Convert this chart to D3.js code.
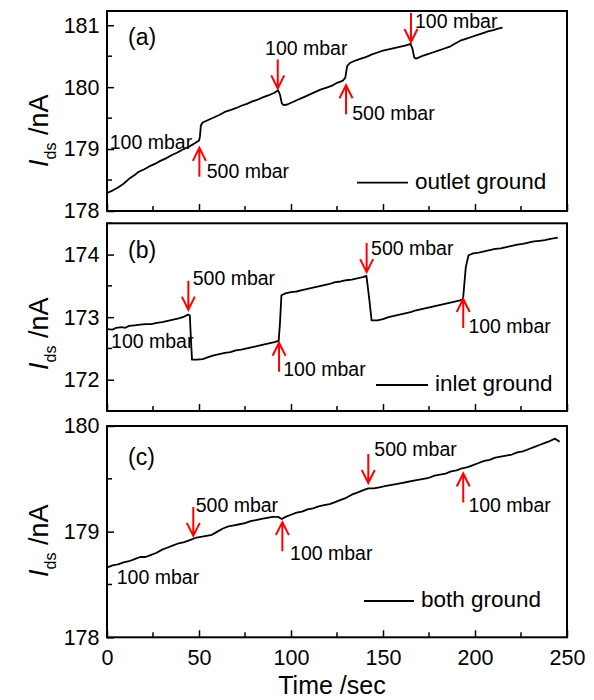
<!DOCTYPE html>
<html>
<head>
<meta charset="utf-8">
<script src="https://cdn.jsdelivr.net/npm/d3@7"></script>
<style>
body { margin: 0; background: #fff; }
text { font-family: "Liberation Sans", Arial, sans-serif; fill: #000; }
</style>
</head>
<body>
<script>
// ---- data ----
var xTicks = [0, 50, 100, 150, 200, 250];
var xDomain = [0, 250];

var yTicksA = [178, 179, 180, 181];
var yTicksB = [172, 173, 174];
var yTicksC = [178, 179, 180];
var yDomainA = [178, 181.23];
var yDomainB = [171.5, 174.5];
var yDomainC = [178, 180];

// [time (s), Ids (nA)]
var seriesA = [[0,178.29],[3,178.33],[6,178.38],[9,178.44],[12,178.52],[15,178.58],[17,178.63],[20,178.67],
  [23,178.72],[26,178.76],[29,178.81],[32,178.85],[35,178.90],[38,178.94],[41,178.99],[44,179.03],[47,179.08],
  [49,179.12],[50,179.14],[50.5,179.2],[51,179.38],[52,179.43],[55,179.47],[58,179.51],[61,179.55],[64,179.60],
  [67,179.63],[70,179.66],[73,179.70],[76,179.73],[79,179.77],[82,179.80],[85,179.84],[88,179.87],[91,179.91],
  [93,179.95],[94,179.88],[95,179.74],[96,179.71],[98,179.72],[101,179.76],[104,179.80],[107,179.84],[110,179.88],
  [113,179.92],[116,179.96],[119,179.99],[122,180.02],[125,180.07],[128,180.10],[129.5,180.15],[130.5,180.34],
  [132,180.39],[135,180.43],[138,180.46],[141,180.49],[144,180.53],[147,180.56],[150,180.59],[153,180.61],
  [156,180.63],[159,180.65],[162,180.67],[165,180.70],[166,180.62],[167,180.48],[168,180.46],[171,180.50],
  [174,180.53],[177,180.56],[180,180.59],[183,180.62],[186,180.65],[189,180.70],[192,180.75],[195,180.78],
  [198,180.81],[201,180.84],[204,180.87],[207,180.90],[210,180.92],[213,180.95],[215,180.96]];

var seriesB = [[0,172.81],[3,172.80],[5,172.83],[8,172.84],[10,172.83],[12,172.86],[15,172.87],[18,172.88],
  [21,172.89],[24,172.89],[27,172.91],[30,172.92],[33,172.94],[36,172.96],[39,172.98],[42,173.01],[44,173.04],
  [45,173.03],[45.7,172.6],[46.2,172.32],[49,172.32],[52,172.33],[55,172.36],[58,172.39],[61,172.41],[64,172.43],
  [67,172.44],[70,172.47],[73,172.48],[76,172.50],[79,172.52],[82,172.54],[85,172.56],[88,172.58],[91,172.60],
  [93.3,172.62],[94,172.9],[94.8,173.35],[97,173.38],[100,173.40],[103,173.41],[106,173.43],[109,173.45],
  [112,173.47],[115,173.49],[118,173.51],[121,173.53],[124,173.56],[127,173.57],[130,173.59],[133,173.60],
  [136,173.62],[139,173.64],[141,173.66],[142.5,173.3],[143.8,172.95],[147,172.95],[150,172.97],[153,173.00],
  [156,173.02],[159,173.04],[162,173.06],[165,173.08],[168,173.11],[171,173.13],[174,173.15],[177,173.17],
  [180,173.19],[183,173.21],[186,173.23],[189,173.25],[192,173.27],[193.5,173.29],[195,173.8],[196.5,173.99],
  [199,174.02],[202,174.03],[205,174.05],[208,174.07],[211,174.09],[214,174.10],[217,174.12],[220,174.14],
  [223,174.16],[226,174.17],[229,174.19],[232,174.21],[235,174.22],[238,174.23],[241,174.25],[245,174.27]];

var seriesC = [[0,178.66],[3,178.68],[6,178.69],[9,178.71],[12,178.72],[15,178.74],[18,178.76],[21,178.76],
  [24,178.78],[27,178.80],[30,178.83],[33,178.85],[36,178.87],[39,178.89],[42,178.90],[45,178.92],[48,178.94],
  [51,178.95],[54,178.96],[57,178.97],[60,179.00],[63,179.03],[66,179.05],[69,179.06],[72,179.07],[75,179.08],
  [78,179.10],[81,179.11],[84,179.12],[87,179.13],[90,179.14],[93,179.14],[95,179.12],[97,179.14],[100,179.16],
  [103,179.18],[106,179.19],[109,179.21],[112,179.22],[115,179.24],[118,179.25],[121,179.26],[124,179.28],
  [127,179.30],[130,179.32],[133,179.35],[136,179.37],[139,179.39],[142,179.41],[145,179.41],[148,179.42],
  [151,179.43],[154,179.44],[157,179.45],[160,179.46],[163,179.47],[166,179.48],[169,179.49],[172,179.50],
  [175,179.51],[178,179.53],[181,179.54],[184,179.55],[187,179.57],[190,179.58],[193,179.60],[196,179.61],
  [199,179.63],[202,179.65],[205,179.67],[208,179.68],[211,179.70],[214,179.71],[217,179.72],[220,179.73],
  [223,179.75],[226,179.76],[229,179.78],[232,179.80],[235,179.82],[238,179.84],[241,179.86],[243.5,179.88],
  [246,179.85]];

// arrows: [time, value at tip, direction]
var arrowsA = [[50.2,179.02,"up"],[92.8,179.98,"down"],[129.9,180.03,"up"],[165.2,180.73,"down"]];
var arrowsB = [[44.2,173.12,"down"],[93.5,172.59,"up"],[141.1,173.72,"down"],[193.6,173.29,"up"]];
var arrowsC = [[46.9,178.96,"down"],[95.3,179.09,"up"],[142,179.46,"down"],[193.6,179.55,"up"]];

// notes: [time, value at baseline, text]
var notesA = [[1.5,179.0,"100 mbar"],[54.2,178.53,"500 mbar"],[85.9,180.52,"100 mbar"],
  [133.3,179.47,"500 mbar"],[167.4,180.95,"100 mbar"]];
var notesB = [[2.2,172.51,"100 mbar"],[46.6,173.51,"500 mbar"],[95.8,172.06,"100 mbar"],
  [143.5,174.0,"500 mbar"],[196.4,172.75,"100 mbar"]];
var notesC = [[5.3,178.50,"100 mbar"],[48.2,179.19,"500 mbar"],[99.5,178.73,"100 mbar"],
  [145.3,179.72,"500 mbar"],[196.4,179.19,"100 mbar"]];

var panelLabels = ["(a)", "(b)", "(c)"];
var legendLabels = ["outlet ground", "inlet ground", "both ground"];

// ---- layout ----
var width = 594, height = 700;
var left = 107, right = 567;

var panels = [
  {top: 11, bottom: 211, domain: yDomainA, ticks: yTicksA, data: seriesA, arrows: arrowsA, notes: notesA,
   labelDy: 34, legY: 182.7, legX: 357, legLen: 51, yLab: 167},
  {top: 223.3, bottom: 411, domain: yDomainB, ticks: yTicksB, data: seriesB, arrows: arrowsB, notes: notesB,
   labelDy: 35, legY: 385, legX: 376, legLen: 52, yLab: 370},
  {top: 426, bottom: 637.3, domain: yDomainC, ticks: yTicksC, data: seriesC, arrows: arrowsC, notes: notesC,
   labelDy: 39, legY: 601, legX: 364, legLen: 50, yLab: 577}
];

var svg = d3.select("body").append("svg").attr("width", width).attr("height", height);

var x = d3.scaleLinear().domain(xDomain).range([left, right]);

panels.forEach(function(p, i) {
  var y = d3.scaleLinear().domain(p.domain).range([p.bottom, p.top]);
  var g = svg.append("g");

  // minor ticks
  var xMinor = d3.range(25, 250, 50);
  var yMinor = d3.range(Math.ceil(p.domain[0] * 2) / 2, p.domain[1] + 0.001, 0.5)
    .filter(function(v) { return v % 1 !== 0; });

  g.selectAll(".xminor").data(xMinor).enter().append("line")
    .attr("x1", function(d) { return x(d); }).attr("x2", function(d) { return x(d); })
    .attr("y1", p.bottom).attr("y2", p.bottom - 5)
    .attr("stroke", "#000").attr("stroke-width", 1.5);
  g.selectAll(".yminor").data(yMinor).enter().append("line")
    .attr("x1", left).attr("x2", left + 5)
    .attr("y1", function(d) { return y(d); }).attr("y2", function(d) { return y(d); })
    .attr("stroke", "#000").attr("stroke-width", 1.5);

  var xAxis = d3.axisBottom(x).tickValues(xTicks).tickSize(-7).tickSizeOuter(0).tickPadding(9);
  if (i < 2) xAxis.tickFormat("");
  var yAxis = d3.axisLeft(y).tickValues(p.ticks).tickSize(-7).tickSizeOuter(0).tickPadding(7.5)
    .tickFormat(d3.format("d"));

  var xg = g.append("g").attr("transform", "translate(0," + p.bottom + ")").call(xAxis);
  var yg = g.append("g").attr("transform", "translate(" + left + ",0)").call(yAxis);
  [xg, yg].forEach(function(a) {
    a.select(".domain").remove();
    a.selectAll("line").attr("stroke", "#000").attr("stroke-width", 1.5);
    a.selectAll("text").attr("font-size", "21.5px").attr("fill", "#000")
      .style("font-family", "'Liberation Sans', Arial, sans-serif");
  });
  xg.selectAll("text").attr("dy", "0.85em");

  // data line
  var line = d3.line().x(function(d) { return x(d[0]); }).y(function(d) { return y(d[1]); });
  g.append("path").datum(p.data).attr("d", line)
    .attr("fill", "none").attr("stroke", "#000").attr("stroke-width", 1.8)
    .attr("stroke-linejoin", "round");

  // arrows
  p.arrows.forEach(function(a) {
    var ax = x(a[0]), ay = y(a[1]);
    var s = a[2] === "up" ? 1 : -1;
    g.append("path")
      .attr("d", "M" + ax + "," + (ay + s * 29) + "L" + ax + "," + ay +
        "M" + (ax - 6.5) + "," + (ay + s * 13) + "L" + ax + "," + ay + "L" + (ax + 6.5) + "," + (ay + s * 13))
      .attr("fill", "none").attr("stroke", "#ff0000").attr("stroke-width", 2);
  });

  // notes
  g.selectAll(".note").data(p.notes).enter().append("text")
    .attr("x", function(d) { return x(d[0]); })
    .attr("y", function(d) { return y(d[1]); })
    .attr("font-size", "19.5px")
    .text(function(d) { return d[2]; });

  // frame
  g.append("rect").attr("x", left).attr("y", p.top)
    .attr("width", right - left).attr("height", p.bottom - p.top)
    .attr("fill", "none").attr("stroke", "#000").attr("stroke-width", 2);

  // panel label
  g.append("text").attr("x", 128).attr("y", p.top + p.labelDy)
    .attr("font-size", "23px").text(panelLabels[i]);

  // legend
  g.append("line").attr("x1", p.legX).attr("x2", p.legX + p.legLen)
    .attr("y1", p.legY).attr("y2", p.legY)
    .attr("stroke", "#000").attr("stroke-width", 1.8);
  g.append("text").attr("x", p.legX + p.legLen + 7).attr("y", p.legY + 6)
    .attr("font-size", "22.5px").text(legendLabels[i]);

  // y label
  var yl = g.append("text")
    .attr("transform", "translate(48," + p.yLab + ") rotate(-90)")
    .attr("font-size", "27px");
  yl.append("tspan").attr("font-style", "italic").text("I");
  yl.append("tspan").attr("font-size", "16px").attr("dy", 8).text("ds");
  yl.append("tspan").attr("dy", -8).text(" /nA");
});

svg.append("text").attr("x", 332).attr("y", 694)
  .attr("text-anchor", "middle").attr("font-size", "25px").text("Time /sec");
</script>
</body>
</html>
